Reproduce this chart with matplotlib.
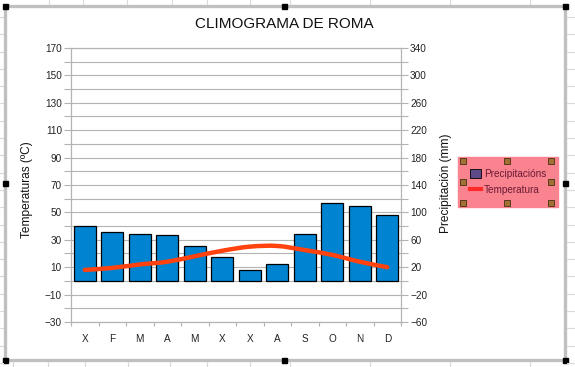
import matplotlib.pyplot as plt
import numpy as np
from matplotlib.path import Path
from matplotlib.patches import PathPatch, Rectangle, Patch
from matplotlib.lines import Line2D

meses = ["X", "F", "M", "A", "M", "X", "X", "A", "S", "O", "N", "D"]
precipitacion = [80, 71, 69, 67, 51, 35, 16, 25, 68, 113, 110, 96]
temperatura = [8, 9.5, 12, 14, 18, 22, 25, 25.5, 22.5, 19, 14, 10]

plt.rcParams['font.family'] = ['Liberation Sans', 'DejaVu Sans']

W, H = 575, 367
gris = '#b3b3b3'
fig = plt.figure(figsize=(W / 100, H / 100), dpi=100)
fig.patch.set_facecolor('white')

# eixos: esquerda temperatura, dereita precipitacion
ax = fig.add_axes([71 / W, 1 - 322 / H, 330 / W, 274 / H])
ax2 = ax.twinx()
ax.set_zorder(2)
ax2.set_zorder(1)
ax.patch.set_visible(False)

x = np.arange(len(meses))
ax2.bar(x, precipitacion, width=0.8, color='#0084d1', edgecolor='black',
        linewidth=0.9, zorder=3)
ax2.set_ylim(-60, 340)
ax2.set_yticks(range(-60, 341, 40))
ax2.set_yticks(range(-40, 341, 40), minor=True)
ax2.grid(True, which='both', axis='y', color=gris, linewidth=0.8, zorder=0)
ax2.set_axisbelow(True)

ax.set_xlim(-0.5, 11.5)
ax.set_ylim(-30, 170)
ax.set_yticks(range(-30, 171, 20))
ax.set_yticks(range(-20, 171, 20), minor=True)
ax.set_xticks(x)
ax.set_xticklabels(meses)
ax.set_xticks(np.arange(-0.5, 12, 1), minor=True)

for a in (ax, ax2):
    for s in a.spines.values():
        s.set_color(gris)
        s.set_linewidth(0.8)
    a.tick_params(axis='y', which='both', length=5, width=0.8, color=gris,
                  labelsize=7.2, labelcolor='#222222', pad=1.5)
ax.tick_params(axis='y', which='minor', labelleft=False)
ax2.tick_params(axis='y', which='minor', labelright=False)
ax.tick_params(axis='x', which='major', length=0, pad=9, labelsize=7.2,
               labelcolor='#222222')
ax.tick_params(axis='x', which='minor', length=3, width=0.8, color=gris)

# liña suavizada (curva Bezier a traves dos puntos)
pts = np.column_stack([x, temperatura]).astype(float)
ext = np.vstack([pts[0], pts, pts[-1]])
verts = [tuple(pts[0])]
codes = [Path.MOVETO]
for i in range(len(pts) - 1):
    p0, p1, p2, p3 = ext[i], ext[i + 1], ext[i + 2], ext[i + 3]
    c1 = p1 + (p2 - p0) / 6
    c2 = p2 - (p3 - p1) / 6
    verts += [tuple(c1), tuple(c2), tuple(p2)]
    codes += [Path.CURVE4] * 3
ax.add_patch(PathPatch(Path(verts, codes), facecolor='none',
                       edgecolor='#ff420e', linewidth=3.2, capstyle='round',
                       zorder=4))

fig.text(284.5 / W, 1 - 24.5 / H, "CLIMOGRAMA DE ROMA", ha='center',
         va='center', fontsize=11, color='#111111')
fig.text(27 / W, 1 - 190 / H, "Temperaturas (ºC)", rotation=90,
         ha='center', va='center', fontsize=8.6, color='#111111')
fig.text(446 / W, 1 - 183 / H, "Precipitación (mm)", rotation=90,
         ha='center', va='center', fontsize=8.6, color='#111111')

# lenda
handles = [Patch(facecolor='#5e4a86', edgecolor='black', linewidth=0.6),
           Line2D([], [], color='#ff2a2a', linewidth=3)]
leg = ax.legend(handles, ["Precipitacións", "Temperatura"],
                loc='upper left', bbox_to_anchor=(458 / W, 1 - 157 / H),
                bbox_transform=fig.transFigure, fontsize=7.2,
                handlelength=1.1, handleheight=0.9, handletextpad=0.3,
                borderpad=1.2, borderaxespad=0, labelspacing=0.6,
                fancybox=False, facecolor='#f9848f', edgecolor='#f9848f',
                framealpha=1)
for t in leg.get_texts():
    t.set_color('#6a1a34')

# capa superior: marco do obxecto, follas de calculo, tiradores
ov = fig.add_axes([0, 0, 1, 1])
ov.set_xlim(0, W)
ov.set_ylim(H, 0)
ov.axis('off')
ov.patch.set_visible(False)
ov.set_zorder(10)

linea = '#d9d9d9'
for xv in [49, 83, 127, 172, 207, 250, 290, 370, 450, 530]:
    ov.plot([xv, xv], [0, 4], color=linea, lw=0.8)
for xv in [13, 48, 85, 128, 170, 207, 250, 290, 370, 450, 530]:
    ov.plot([xv, xv], [362, H], color=linea, lw=0.8)
for yv in np.arange(17, H, 17.3):
    ov.plot([567, W], [yv, yv], color=linea, lw=0.8)
    ov.plot([0, 3], [yv, yv], color=linea, lw=0.8)

ov.add_patch(Rectangle((5, 6), 560, 354, fill=False, edgecolor='#c0c0c0',
                       linewidth=2.4))
for hx in [5, 284, 565]:
    for hy in [6, 360]:
        ov.add_patch(Rectangle((hx - 2.5, hy - 2.5), 5, 5, color='black'))
for hx in [5, 565]:
    ov.add_patch(Rectangle((hx - 2.5, 180.5), 5, 5, color='black'))

for hx in [463, 507, 551]:
    for hy in [161, 182, 203]:
        if hx == 507 and hy == 182:
            continue
        ov.add_patch(Rectangle((hx - 3, hy - 3), 6, 6, facecolor='#a07034',
                               edgecolor='#4a3010', linewidth=0.6))

fig.savefig("out.png", dpi=100)
